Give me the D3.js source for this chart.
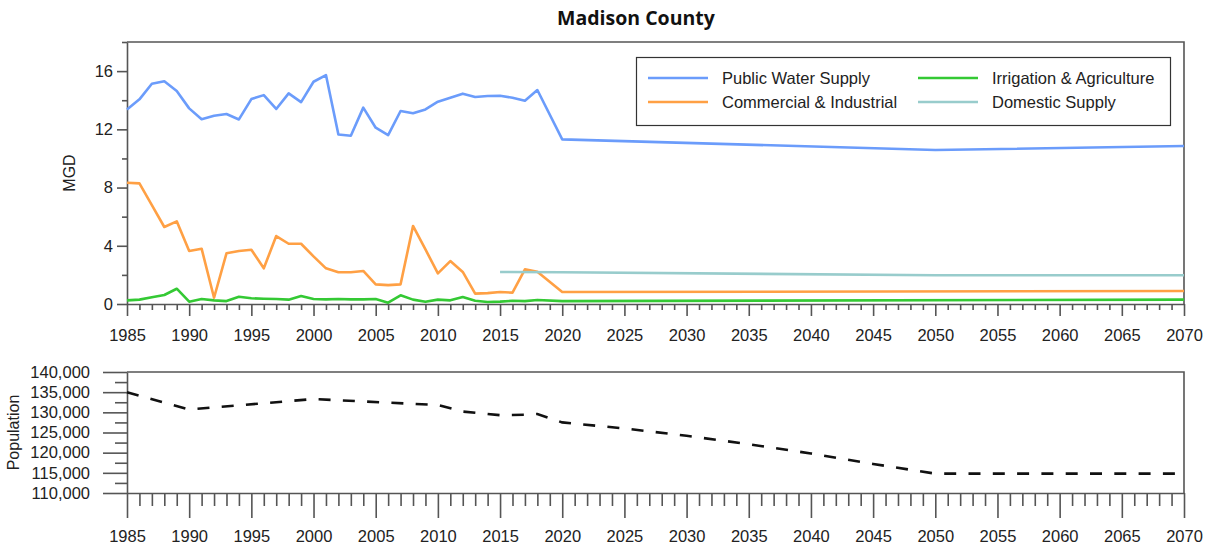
<!DOCTYPE html>
<html>
<head>
<meta charset="utf-8">
<script src="https://cdn.jsdelivr.net/npm/d3@7"></script>
<style>
  html, body { margin: 0; padding: 0; background: #fff; }
  svg { display: block; }
  text { font-family: "Liberation Sans", Arial, sans-serif; }
</style>
</head>
<body>
<svg id="chart" width="1212" height="550"></svg>
<script>
// Water use by category, million gallons per day
const pwsYears = [1985,1986,1987,1988,1989,1990,1991,1992,1993,1994,1995,1996,1997,1998,1999,2000,2001,2002,2003,2004,2005,2006,2007,2008,2009,2010,2011,2012,2013,2014,2015,2016,2017,2018,2020,2050,2070];
const pwsValues = [13.37,14.06,15.13,15.3,14.63,13.44,12.7,12.93,13.05,12.68,14.08,14.35,13.4,14.47,13.87,15.27,15.73,11.65,11.56,13.49,12.11,11.6,13.26,13.1,13.37,13.9,14.17,14.45,14.22,14.29,14.31,14.17,13.96,14.7,11.31,10.58,10.85];

const ciYears = [1985,1986,1987,1988,1989,1990,1991,1992,1993,1994,1995,1996,1997,1998,1999,2000,2001,2002,2003,2004,2005,2006,2007,2008,2009,2010,2011,2012,2013,2014,2015,2016,2017,2018,2020,2070];
const ciValues = [8.33,8.29,6.8,5.29,5.68,3.64,3.8,0.43,3.48,3.64,3.73,2.45,4.67,4.14,4.14,3.27,2.45,2.18,2.18,2.27,1.35,1.3,1.35,5.36,3.75,2.1,2.95,2.2,0.71,0.75,0.82,0.78,2.38,2.22,0.82,0.89];

const iaYears = [1985,1986,1987,1988,1989,1990,1991,1992,1993,1994,1995,1996,1997,1998,1999,2000,2001,2002,2003,2004,2005,2006,2007,2008,2009,2010,2011,2012,2013,2014,2015,2016,2017,2018,2020,2070];
const iaValues = [0.25,0.3,0.46,0.62,1.05,0.16,0.34,0.25,0.2,0.5,0.39,0.36,0.34,0.3,0.55,0.34,0.32,0.34,0.32,0.32,0.34,0.09,0.6,0.3,0.16,0.3,0.25,0.48,0.22,0.14,0.16,0.22,0.2,0.28,0.2,0.3];

const dsYears = [2015,2020,2050,2070];
const dsValues = [2.2,2.18,1.98,1.98];

// County population, estimates and projections
const popYears = [1985,1990,2000,2010,2012,2015,2017,2018,2020,2025,2030,2035,2040,2045,2050,2060,2070];
const popValues = [135000,130700,133300,131800,130200,129300,129400,129600,127500,126000,124200,122100,119800,117200,114800,114800,114800];

const seriesNames = ["Public Water Supply","Commercial & Industrial","Irrigation & Agriculture","Domestic Supply"];
const seriesColors = ["#6b9cfb","#ffa044","#34c934","#98cccc"];

const mgdTicks = [0,2,4,6,8,10,12,14,16,18];
const popTicks = d3.range(110000, 140001, 2500);
const yearTicks = d3.range(1985, 2071, 1);

const svg = d3.select("#chart");
const axisColor = "#555";

const x = d3.scaleLinear().domain([1985, 2070]).range([127, 1184]);
const yTop = d3.scaleLinear().domain([0, 18]).range([304, 42]);
const yPop = d3.scaleLinear().domain([110000, 140000]).range([493, 372]);

// Title
svg.append("text")
  .attr("x", 636).attr("y", 25)
  .attr("text-anchor", "middle")
  .style("font-family", "'Open Sans', Lato, sans-serif")
  .style("font-weight", "bold")
  .style("font-size", "19.5px")
  .attr("fill", "#111")
  .text("Madison County");

function styleAxis(g) {
  g.selectAll("path.domain").attr("stroke", axisColor).attr("stroke-width", 1.6);
  g.selectAll(".tick line").attr("stroke", axisColor).attr("stroke-width", 1.6);
  g.selectAll(".tick text")
    .attr("fill", "#222")
    .style("font-family", "'Liberation Sans', Arial, sans-serif")
    .style("font-size", "16.5px");
}

// ---------- Water use panel ----------
const gxTop = svg.append("g").attr("transform", `translate(0,${yTop(0)})`)
  .call(d3.axisBottom(x).tickValues(yearTicks).tickSize(12).tickSizeOuter(0)
    .tickFormat(d => d % 5 === 0 ? d : ""));
gxTop.selectAll(".tick").filter(d => d % 5 !== 0).select("line").attr("y2", 6);
gxTop.selectAll(".tick text").attr("y", 25);
styleAxis(gxTop);

const gyTop = svg.append("g").attr("transform", `translate(${x(1985)},0)`)
  .call(d3.axisLeft(yTop).tickValues(mgdTicks).tickSize(10).tickSizeOuter(0)
    .tickFormat(d => d % 4 === 0 ? d : ""));
gyTop.selectAll(".tick").filter(d => d % 4 !== 0).select("line").attr("x2", -5);
gyTop.selectAll(".tick text").attr("x", -14);
styleAxis(gyTop);

// frame: top and right edges
svg.append("path")
  .attr("d", `M${x(1985)},${yTop(18)}H${x(2070)}V${yTop(0)}`)
  .attr("fill", "none").attr("stroke", axisColor).attr("stroke-width", 1.6);

svg.append("text")
  .attr("transform", `translate(75,${(yTop(0) + yTop(18)) / 2}) rotate(-90)`)
  .attr("text-anchor", "middle")
  .style("font-size", "16px").attr("fill", "#222")
  .text("MGD");

const line = d3.line().x(d => x(d[0])).y(d => yTop(d[1]));
const waterSeries = [
  d3.zip(pwsYears, pwsValues),
  d3.zip(ciYears, ciValues),
  d3.zip(iaYears, iaValues),
  d3.zip(dsYears, dsValues)
];
// draw order: irrigation, commercial, public supply, domestic on top
[2, 1, 0, 3].forEach(i => {
  svg.append("path")
    .datum(waterSeries[i])
    .attr("d", line)
    .attr("fill", "none")
    .attr("stroke", seriesColors[i])
    .attr("stroke-width", 2.6)
    .attr("stroke-linejoin", "round");
});

// Legend
const legend = svg.append("g");
legend.append("rect")
  .attr("x", 636.5).attr("y", 57.5).attr("width", 534).attr("height", 68)
  .attr("fill", "#fff").attr("stroke", "#333").attr("stroke-width", 1.2);
const legendPos = [[648, 78], [648, 102], [918, 78], [918, 102]];
seriesNames.forEach((name, i) => {
  const [lx, ly] = legendPos[i];
  legend.append("line")
    .attr("x1", lx).attr("x2", lx + 60).attr("y1", ly).attr("y2", ly)
    .attr("stroke", seriesColors[i]).attr("stroke-width", 2.6);
  legend.append("text")
    .attr("x", lx + 74).attr("y", ly + 6)
    .style("font-size", "16.5px").attr("fill", "#222")
    .text(name);
});

// ---------- Population panel ----------
const gxPop = svg.append("g").attr("transform", `translate(0,${yPop(110000)})`)
  .call(d3.axisBottom(x).tickValues(yearTicks).tickSize(25).tickSizeOuter(0)
    .tickFormat(d => d % 5 === 0 ? d : ""));
gxPop.selectAll(".tick").filter(d => d % 5 !== 0).select("line").attr("y2", 13);
gxPop.selectAll(".tick text").attr("y", 37);
styleAxis(gxPop);

const gyPop = svg.append("g").attr("transform", `translate(${x(1985)},0)`)
  .call(d3.axisLeft(yPop).tickValues(popTicks).tickSize(24).tickSizeOuter(0)
    .tickFormat(d => d % 5000 === 0 ? d3.format(",")(d) : ""));
gyPop.selectAll(".tick").filter(d => d % 5000 !== 0).select("line").attr("x2", -12);
gyPop.selectAll(".tick text").attr("x", -37);
styleAxis(gyPop);

svg.append("path")
  .attr("d", `M${x(1985)},${yPop(140000)}H${x(2070)}V${yPop(110000)}`)
  .attr("fill", "none").attr("stroke", axisColor).attr("stroke-width", 1.6);

svg.append("text")
  .attr("transform", `translate(19,${(yPop(110000) + yPop(140000)) / 2}) rotate(-90)`)
  .attr("text-anchor", "middle")
  .style("font-size", "16px").attr("fill", "#222")
  .text("Population");

const popLine = d3.line().x(d => x(d[0])).y(d => yPop(d[1]));
svg.append("path")
  .datum(d3.zip(popYears, popValues))
  .attr("d", popLine)
  .attr("fill", "none")
  .attr("stroke", "#111")
  .attr("stroke-width", 2.6)
  .attr("stroke-dasharray", "12,12.3");
</script>
</body>
</html>
